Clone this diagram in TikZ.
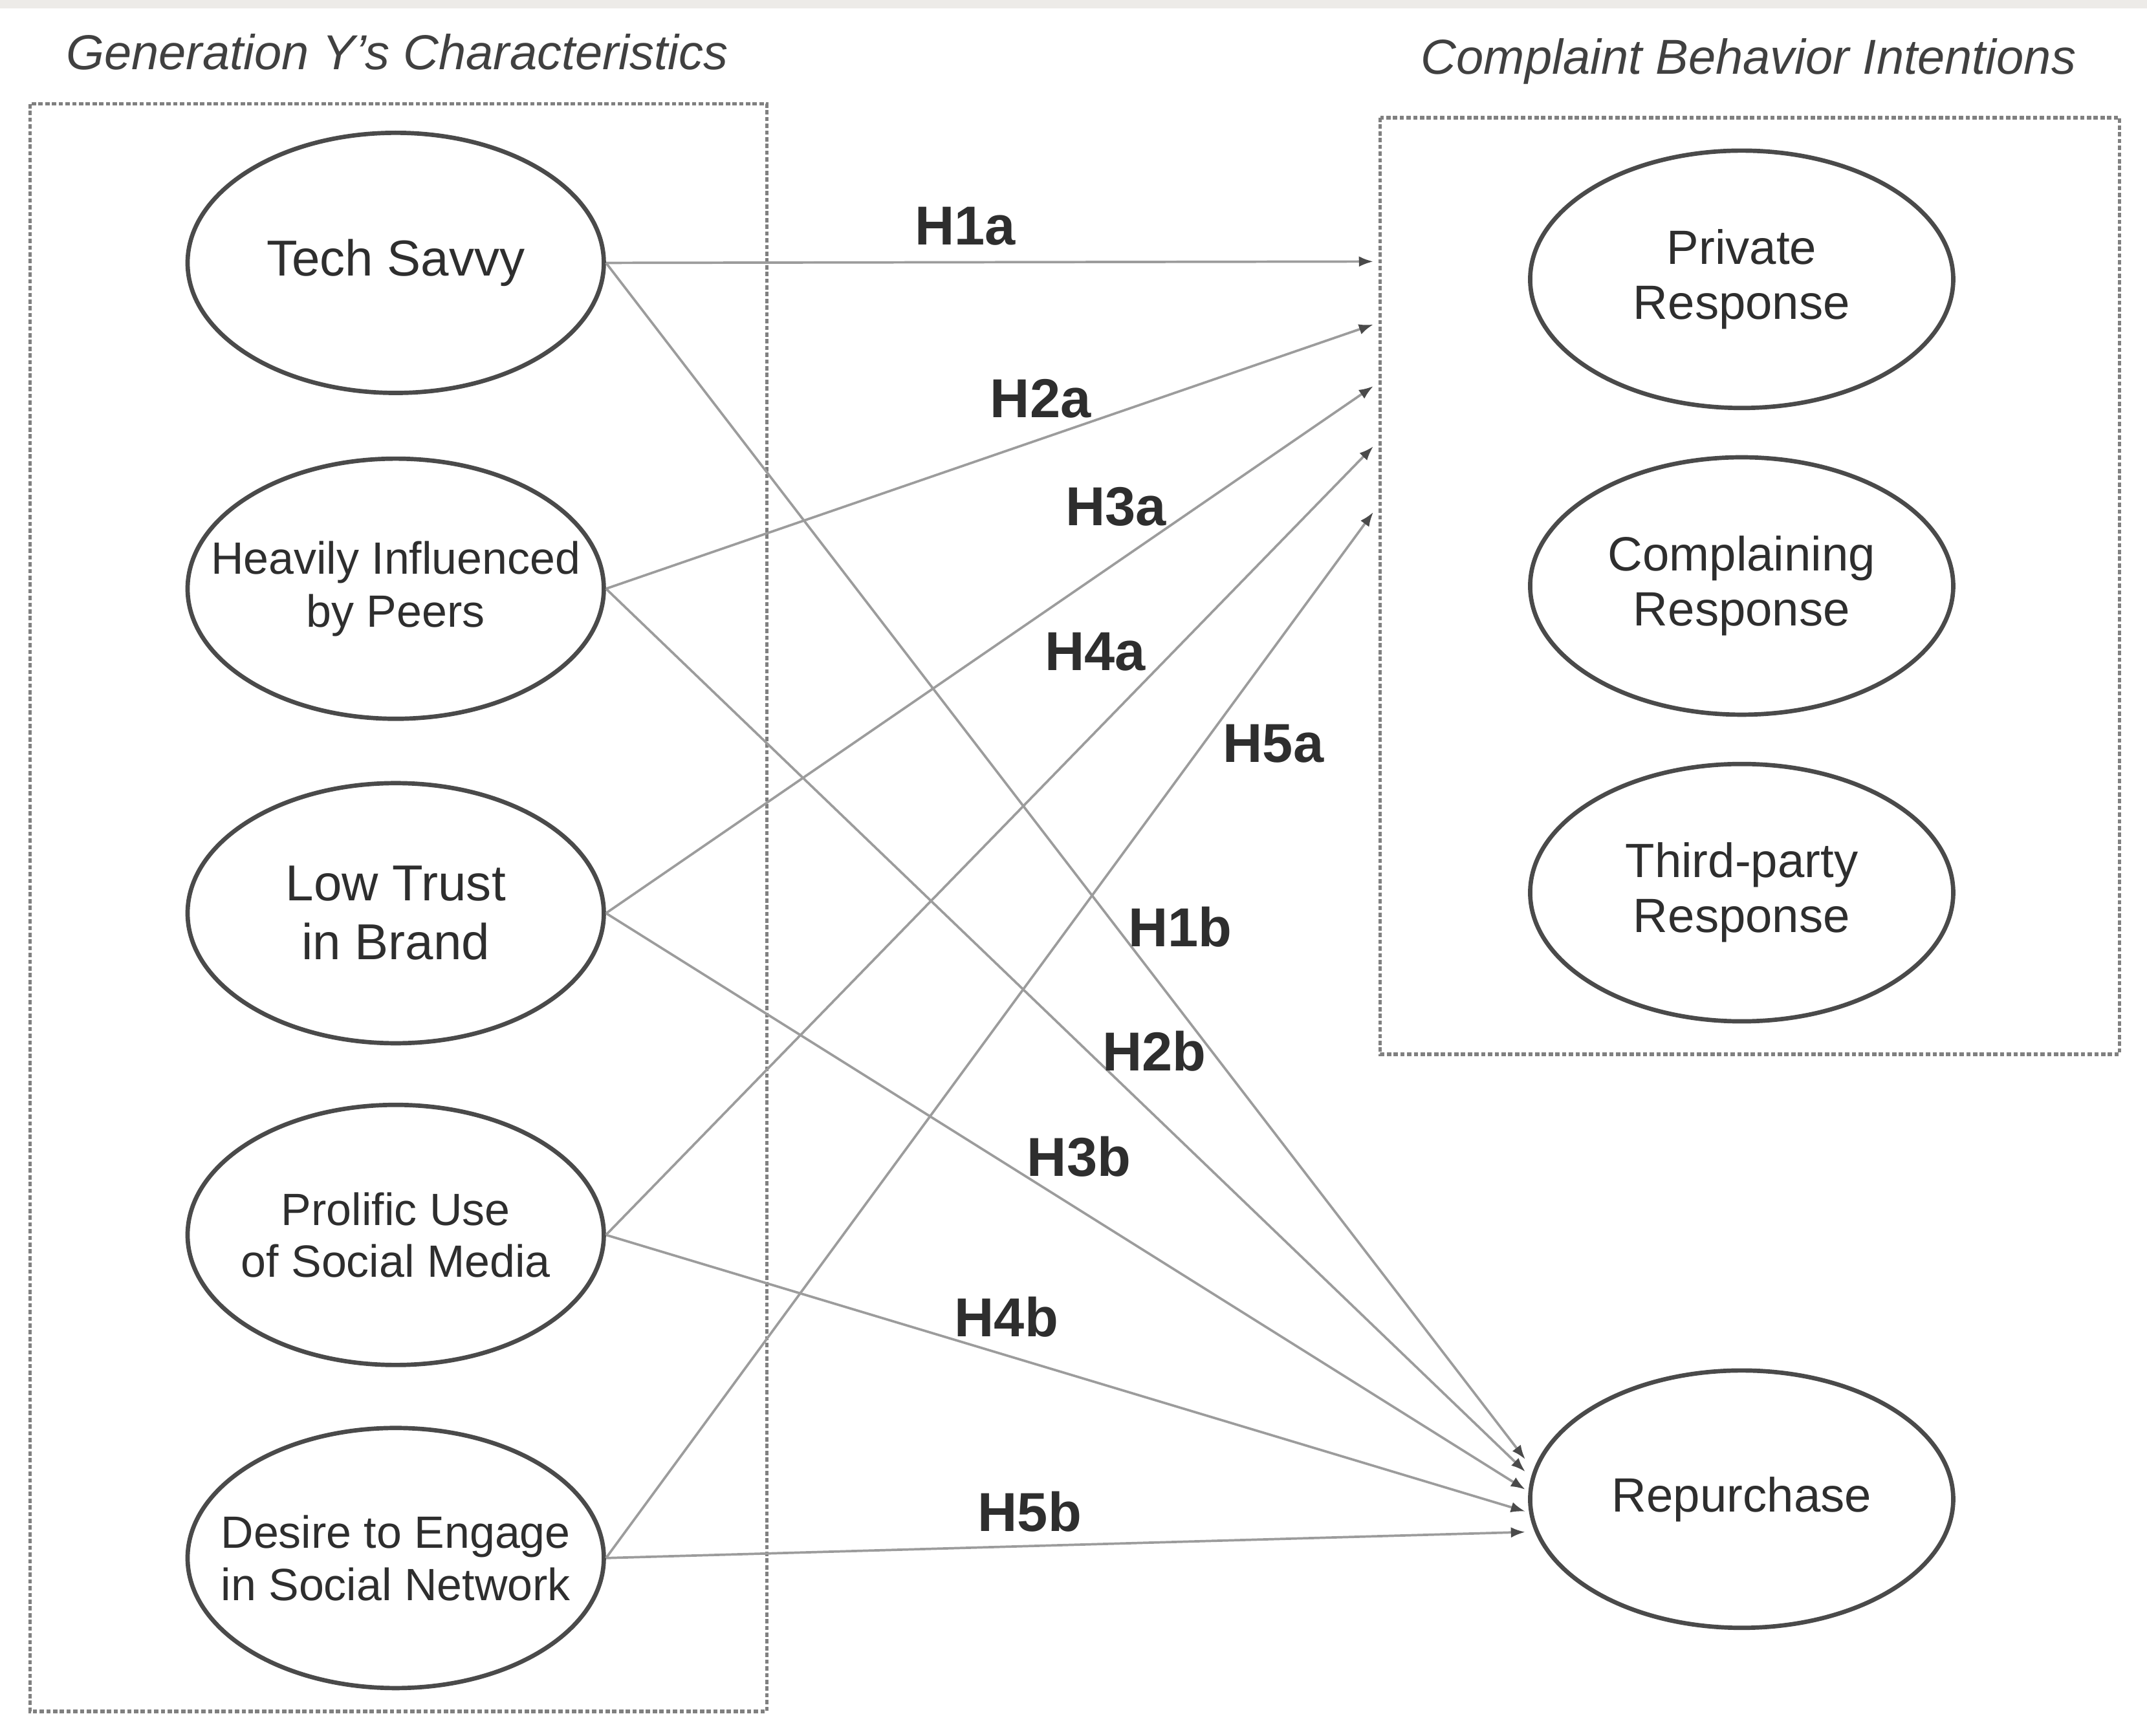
\documentclass[tikz,border=0pt]{standalone}
\usepackage{fontspec}
\setmainfont{Liberation Sans}
\usetikzlibrary{shapes.geometric,arrows.meta,positioning}

\definecolor{bandgray}{HTML}{EDEBE8}
\definecolor{linegray}{HTML}{9C9C9C}
\definecolor{rimgray}{HTML}{4A4A4A}
\definecolor{inkgray}{HTML}{2E2E2E}

\begin{document}
\begin{tikzpicture}[x=0.1mm,y=-0.1mm,
    trait/.style={draw=rimgray,line width=0.9pt,ellipse,minimum width=30.4mm,minimum height=19mm,inner xsep=-4mm,inner ysep=0pt,align=center,text=inkgray},
    intent/.style={trait,minimum width=30.9mm,minimum height=18.8mm,font=\fontsize{10}{11.4}\selectfont},
    frame/.style={draw=gray,line width=0.7pt,dash pattern=on 0.9pt off 0.5pt},
    hyp/.style={draw=linegray,line width=0.5pt,-{Latex[length=3pt,width=2.2pt,color=rimgray]}},
    hlabel/.style={font=\fontsize{11.4}{13}\selectfont\bfseries,text=inkgray},
    heading/.style={font=\fontsize{10.2}{12}\selectfont\itshape,text=black!75}
  ]
  \path[use as bounding box] (0,0) rectangle (1568,1268);
  \fill[bandgray] (0,0) rectangle (1568,6);

  % Headings and frames
  \node[heading] (genY) at (290,38) {Generation Y's Characteristics};
  \node[heading] (cbi) at (1277,45) {Complaint Behavior Intentions};
  \draw[frame] (22,76) rectangle (560,1250);
  \draw[frame] (1008,86) rectangle (1548,770);

  % Generation Y traits
  \node[trait,font=\fontsize{10.5}{12.6}\selectfont] (ts) at (289,192) {Tech Savvy};
  \node[trait,font=\fontsize{9.4}{11.1}\selectfont] (hip) at (289,430) {Heavily Influenced\\by Peers};
  \node[trait,font=\fontsize{10.5}{12.2}\selectfont] (ltb) at (289,667) {Low Trust\\in Brand};
  \node[trait,font=\fontsize{9.4}{10.8}\selectfont] (pus) at (289,902) {Prolific Use\\of Social Media};
  \node[trait,font=\fontsize{9.4}{10.8}\selectfont] (dsn) at (289,1138) {Desire to Engage\\in Social Network};

  % Complaint intentions and repurchase
  \node[intent] (pr) at (1272,204) {Private\\Response};
  \node[intent] (cr) at (1272,428) {Complaining\\Response};
  \node[intent] (tpr) at (1272,652) {Third-party\\Response};
  \node[intent] (rep) at (1272,1095) {Repurchase};

  % Arrow ends
  \coordinate (a1) at (1003,191);
  \coordinate (a2) at (1003,237);
  \coordinate (a3) at (1003,282);
  \coordinate (a4) at (1003,326);
  \coordinate (a5) at (1003,374);
  \coordinate (b1) at (1114,1066);
  \coordinate (b2) at (1114,1075);
  \coordinate (b3) at (1114,1088);
  \coordinate (b4) at (1114,1104);
  \coordinate (b5) at (1114,1119);

  \foreach \src/\n in {ts/1,hip/2,ltb/3,pus/4,dsn/5} {
    \draw[hyp] (\src.east) -- (a\n);
    \draw[hyp] (\src.east) -- (b\n);
  }

  % Hypotheses
  \foreach \lab/\x/\y in {H1a/705/165,H2a/760/291,H3a/815/370,H4a/800/476,H5a/930/543,
                          H1b/862/677,H2b/843/768,H3b/788/845,H4b/735/962,H5b/752/1104}
    \node[hlabel] (\lab) at (\x,\y) {\lab};
\end{tikzpicture}
\end{document}
